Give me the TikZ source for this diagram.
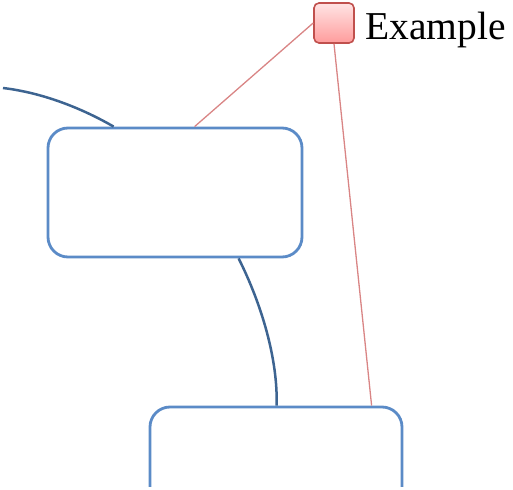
\documentclass[tikz,border=0pt]{standalone}
\usepackage{fontspec}
\setmainfont{Liberation Serif}
\usetikzlibrary{calc}
\definecolor{boxblue}{HTML}{5B8BC7}
\definecolor{linkblue}{HTML}{3D6491}
\definecolor{relred}{HTML}{D98585}
\definecolor{exstroke}{HTML}{C0504D}
\definecolor{extop}{HTML}{FFE4E4}
\definecolor{exbot}{HTML}{FF9C9C}
\tikzset{
  topicbox/.style={draw=boxblue, line width=2.8pt, rounded corners=20pt, fill=white, inner sep=0pt},
  link/.style={draw=linkblue, line width=2.5pt},
  relation/.style={draw=relred, line width=1.3pt},
  legendbox/.style={draw=exstroke, line width=1.6pt, rounded corners=5pt, minimum size=40pt, inner sep=0pt, top color=extop, bottom color=exbot},
  legendtext/.style={font=\fontsize{39.5}{44}\selectfont, inner sep=0pt, text=black}
}
\begin{document}
\begin{tikzpicture}[x=1pt,y=-1pt]
\useasboundingbox (0,0) rectangle (513,489);
\begin{scope}
\clip (0,0) rectangle (513,486);
\node[topicbox, minimum width=254pt, minimum height=129pt] (boxA) at (175,192.5) {};
\node[topicbox, minimum width=252pt, minimum height=200pt] (boxB) at (276,507) {};
\coordinate (start) at (3,88);
\draw[link] (start) .. controls (45,93) and (85,110) .. ($(boxA.north west)+(67,0)$);
\draw[link] ($(boxA.south west)+(192,0)$) .. controls (262,305) and (278,360) .. ($(boxB.north west)+(128,0)$);
\node[legendbox] (ex) at (334,23) {};
\node[legendtext, anchor=base west] (exlabel) at (365,40) {Example};
\draw[relation] ($(boxA.north west)+(148,0)$) -- (ex.west);
\draw[relation] (ex.south) -- ($(boxB.north west)+(223,0)$);
\end{scope}
\end{tikzpicture}
\end{document}
